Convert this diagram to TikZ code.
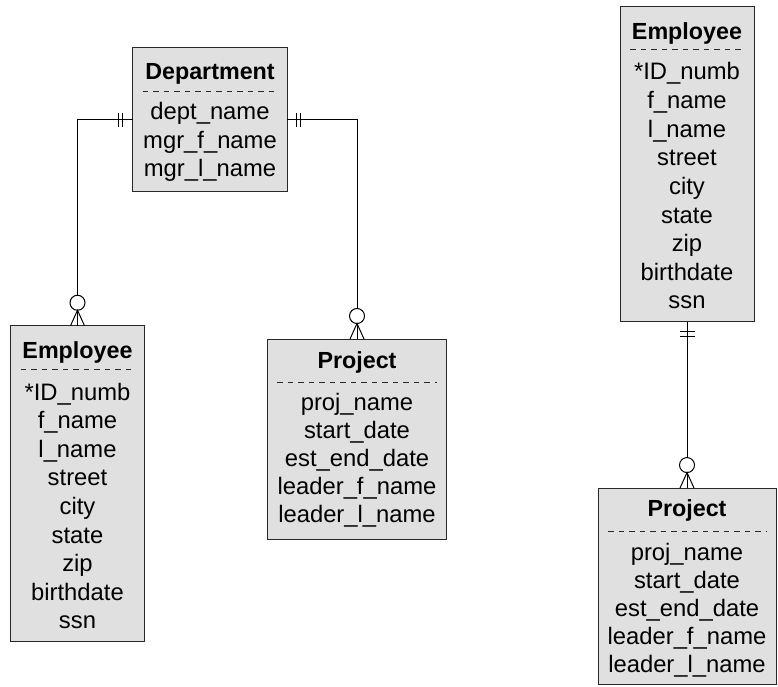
\documentclass[tikz,border=0pt]{standalone}
\usepackage{fontspec}
\setmainfont{Liberation Sans}
\usetikzlibrary{calc}
\definecolor{boxfill}{RGB}{224,224,224}
\definecolor{boxline}{RGB}{40,40,40}
\begin{document}
\begin{tikzpicture}[x=1pt,y=-1pt,
  entity/.style={draw=boxline, fill=boxfill, line width=1pt, inner sep=0pt, outer sep=0pt},
  etitle/.style={anchor=base, inner sep=0pt, font=\fontsize{23.3}{28}\selectfont\bfseries},
  attr/.style={anchor=base, inner sep=0pt, font=\fontsize{23.8}{28}\selectfont},
  sepline/.style={line width=0.9pt, draw=boxline, dash pattern=on 5.5pt off 5pt},
  conn/.style={line width=1pt},
  bar/.style={line width=1pt},
  zero/.style={line width=1pt, fill=white},
]
\useasboundingbox (0,0) rectangle (778,687);
\fill[white] (0,0) rectangle (778,687);

% entity boxes
\node[entity, minimum width=154.6pt, minimum height=144pt]   (dept)  at (210,119.7) {};
\node[entity, minimum width=133.6pt, minimum height=315.3pt] (emp1)  at (77.5,483.4) {};
\node[entity, minimum width=179.4pt, minimum height=200pt]   (proj1) at (357,439) {};
\node[entity, minimum width=134pt,   minimum height=315.3pt] (emp2)  at (687,164.3) {};
\node[entity, minimum width=178pt,   minimum height=196.3pt] (proj2) at (687,586.2) {};

% titles
\node[etitle] (deptT)  at (210,80)    {Department};
\node[etitle] (emp1T)  at (77.5,358.5){Employee};
\node[etitle] (proj1T) at (357,368)   {Project};
\node[etitle] (emp2T)  at (687,40)    {Employee};
\node[etitle] (proj2T) at (687,516.5) {Project};

% dashed separators
\foreach \b in {dept,emp1,proj1,emp2,proj2}{
  \draw[sepline] ($(\b.north west)+(10,43.3)$) -- ($(\b.north east)+(-10,43.3)$);
}

% attributes
\foreach \t [count=\i] in {dept\_name,mgr\_f\_name,mgr\_l\_name}
  \node[attr] (depta\i) at (210,{120+(\i-1)*28.2}) {\t};
\foreach \t [count=\i] in {*ID\_numb,f\_name,l\_name,street,city,state,zip,birthdate,ssn}
  \node[attr] (emp1a\i) at (77.5,{400+(\i-1)*28.6}) {\t};
\foreach \t [count=\i] in {*ID\_numb,f\_name,l\_name,street,city,state,zip,birthdate,ssn}
  \node[attr] (emp2a\i) at (687,{80+(\i-1)*28.6}) {\t};
\foreach \t [count=\i] in {proj\_name,start\_date,est\_end\_date,leader\_f\_name,leader\_l\_name}
  \node[attr] (proj1a\i) at (357,{410+(\i-1)*28}) {\t};
\foreach \t [count=\i] in {proj\_name,start\_date,est\_end\_date,leader\_f\_name,leader\_l\_name}
  \node[attr] (proj2a\i) at (687,{560+(\i-1)*28}) {\t};

% connectors
\draw[conn] (dept.west) -| (emp1.north);
\draw[conn] (dept.east) -| (proj1.north);
\draw[conn] (emp2.south) -- (proj2.north);

% "one" bars
\draw[bar] ($(dept.west)+(-10,-7)$) -- ($(dept.west)+(-10,7)$);
\draw[bar] ($(dept.west)+(-14.5,-7)$) -- ($(dept.west)+(-14.5,7)$);
\draw[bar] ($(dept.east)+(9.5,-7)$) -- ($(dept.east)+(9.5,7)$);
\draw[bar] ($(dept.east)+(13.5,-7)$) -- ($(dept.east)+(13.5,7)$);
\draw[bar] ($(emp2.south)+(-7.5,10)$) -- ($(emp2.south)+(7.5,10)$);
\draw[bar] ($(emp2.south)+(-7.5,14.7)$) -- ($(emp2.south)+(7.5,14.7)$);

% "zero or many" ends
\foreach \b in {emp1,proj1,proj2}{
  \draw[zero] ($(\b.north)+(0,-23)$) circle[radius=7.5pt];
  \draw[conn] ($(\b.north)+(-7,0)$) -- ($(\b.north)+(0,-15.5)$) -- ($(\b.north)+(7,0)$);
}
\end{tikzpicture}
\end{document}
